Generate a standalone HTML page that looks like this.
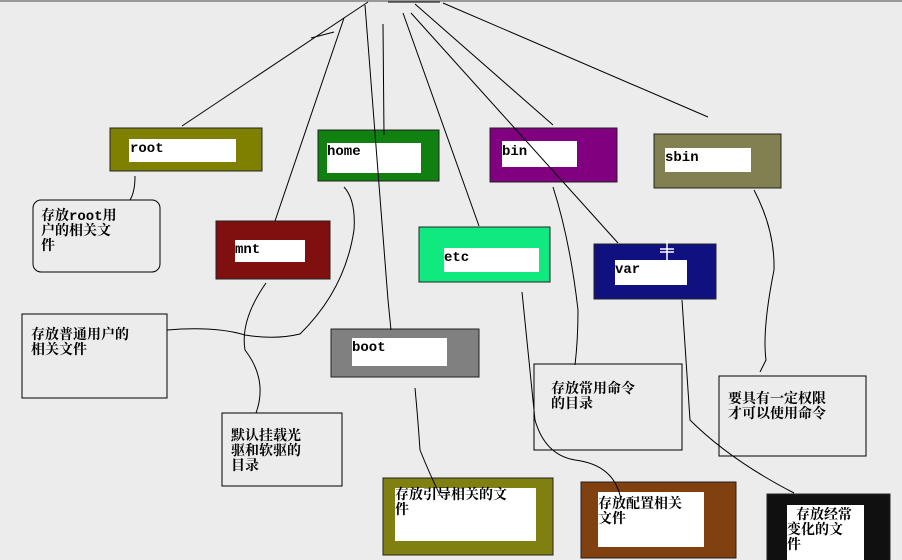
<!DOCTYPE html>
<html><head><meta charset="utf-8"><style>
html,body{margin:0;padding:0;background:#ececec;}
svg{display:block;}
text{font-family:"Liberation Mono","Noto Serif CJK SC","Noto Sans CJK SC",monospace;font-size:14px;font-weight:bold;fill:#000;}
</style></head><body>
<svg width="902" height="560" viewBox="0 0 902 560" xmlns="http://www.w3.org/2000/svg">
<rect width="902" height="560" fill="#ececec"/>
<line x1="0" y1="1" x2="902" y2="1" stroke="#999" stroke-width="2"/>
<!-- colored boxes -->
<g stroke="#222" stroke-width="1">
<rect x="110" y="128" width="152" height="43" fill="#808000"/>
<rect x="318" y="130" width="121" height="51" fill="#108010"/>
<rect x="490" y="128" width="127" height="54" fill="#800080"/>
<rect x="654" y="134" width="127" height="54" fill="#808050"/>
<rect x="216" y="221" width="114" height="58" fill="#801010"/>
<rect x="419" y="227" width="131" height="55" fill="#10e880"/>
<rect x="594" y="244" width="122" height="55" fill="#101080"/>
<rect x="331" y="329" width="148" height="48" fill="#808080"/>
<rect x="383" y="478" width="170" height="77" fill="#808010"/>
<rect x="581" y="482" width="155" height="76" fill="#804010"/>
<rect x="767" y="494" width="123" height="70" fill="#101010"/>
</g>
<g fill="#fff">
<rect x="129" y="139" width="107" height="23"/>
<rect x="327" y="143" width="94" height="30"/>
<rect x="502" y="141" width="75" height="26"/>
<rect x="665" y="148" width="86" height="24"/>
<rect x="235" y="240" width="70" height="22"/>
<rect x="444" y="248" width="95" height="24"/>
<rect x="615" y="260" width="72" height="25"/>
<rect x="352" y="338" width="95" height="28"/>
<rect x="395" y="488" width="141" height="53"/>
<rect x="598" y="492" width="106" height="55"/>
<rect x="787" y="505" width="77" height="60"/>
</g>
<g fill="none" stroke="#fff" stroke-width="1.5">
<line x1="660" y1="249" x2="674" y2="249"/><line x1="660" y1="252" x2="674" y2="252"/><line x1="667" y1="240" x2="667" y2="260"/>
</g>
<!-- desc boxes -->
<g fill="#ececec" stroke="#000" stroke-width="1">
<rect x="33" y="200" width="127" height="72" rx="8"/>
<rect x="22" y="314" width="145" height="84"/>
<rect x="222" y="413" width="120" height="73"/>
<rect x="534" y="364" width="148" height="86"/>
<rect x="719" y="376" width="147" height="80"/>
</g>
<g fill="none" stroke="#000" stroke-width="1">
<line x1="368" y1="2" x2="182" y2="126"/>
<line x1="311" y1="38" x2="334" y2="32"/>
<line x1="344" y1="18" x2="275" y2="221"/>
<line x1="383" y1="24" x2="384" y2="135"/>
<polyline points="365,5 388,300 391,330"/>
<line x1="403" y1="13" x2="479" y2="226"/>
<line x1="411" y1="13" x2="618" y2="243"/>
<line x1="415" y1="4" x2="553" y2="125"/>
<line x1="443" y1="3" x2="708" y2="117"/>
<line x1="388" y1="2" x2="440" y2="2"/>
<path d="M135,176 Q135,192 130,200"/>
<path d="M344,187 Q356,200 354,230 Q345,290 300,334 Q275,340 245,335 Q215,326 167,330"/>
<path d="M266,283 Q240,320 245,350 Q268,380 256,413"/>
<path d="M415,388 Q418,420 420,450 Q430,475 440,495"/>
<path d="M522,292 Q528,350 535,420 Q545,455 575,460 Q615,465 621,500"/>
<path d="M553,187 Q570,240 578,310 Q578,340 575,365"/>
<path d="M682,300 Q686,360 690,420 Q730,460 794,493"/>
<path d="M754,190 Q775,230 774,270 Q762,330 766,360 L760,372"/>
</g>
<g>
<text x="130" y="152">root</text>
<text x="327" y="155">home</text>
<text x="502" y="155">bin</text>
<text x="665" y="161">sbin</text>
<text x="235" y="253">mnt</text>
<text x="444" y="261">etc</text>
<text x="615" y="273">var</text>
<text x="352" y="351">boot</text>
<text x="41" y="220">存放root用</text>
<text x="41" y="235">户的相关文</text>
<text x="41" y="250">件</text>
<text x="31" y="339">存放普通用户的</text>
<text x="31" y="354">相关文件</text>
<text x="231" y="440">默认挂载光</text>
<text x="231" y="455">驱和软驱的</text>
<text x="231" y="470">目录</text>
<text x="551" y="393">存放常用命令</text>
<text x="551" y="408">的目录</text>
<text x="728" y="403">要具有一定权限</text>
<text x="728" y="418">才可以使用命令</text>
<text x="395" y="499">存放引导相关的文</text>
<text x="395" y="514">件</text>
<text x="598" y="508">存放配置相关</text>
<text x="598" y="523">文件</text>
<text x="796" y="519">存放经常</text>
<text x="787" y="534">变化的文</text>
<text x="787" y="549">件</text>
</g>
</svg>
</body></html>
